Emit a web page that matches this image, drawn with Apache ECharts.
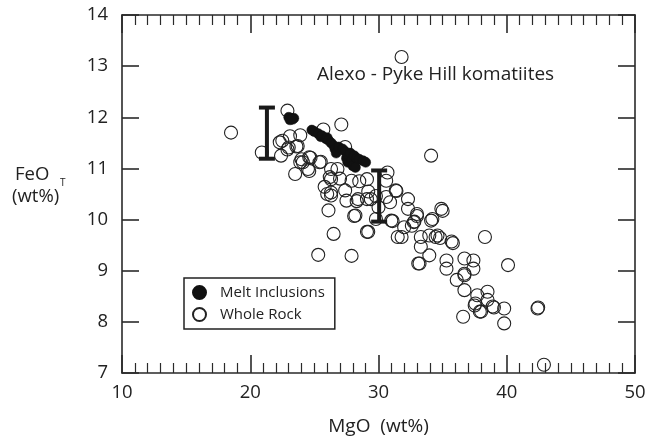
<!DOCTYPE html>
<html>
<head>
<meta charset="utf-8">
<script src="https://cdn.jsdelivr.net/npm/echarts@6/dist/echarts.min.js"></script>
<style>
html,body{margin:0;padding:0;background:#fff;}
#chart{width:657px;height:441px;}
</style>
</head>
<body>
<div id="chart"></div>
<script>
// MgO (wt%), FeO_T (wt%)
var meltInclusions = [
  [23.0,12.0],[23.2,11.98],[23.4,11.98],[23.1,11.95],[23.3,11.96],
  [24.8,11.75],[25.0,11.72],[25.3,11.68],[25.5,11.62],[25.6,11.64],[25.9,11.58],[26.0,11.6],
  [26.1,11.55],[26.3,11.5],[26.5,11.45],[26.6,11.38],[26.7,11.3],[26.9,11.42],[27.2,11.38],
  [27.4,11.33],[27.5,11.2],[27.6,11.12],[27.7,11.25],[27.8,11.3],[27.9,11.15],[28.0,11.05],
  [28.1,11.25],[28.3,11.2],[28.5,11.18],[28.8,11.15],[29.0,11.12],[28.2,11.02]
];
var wholeRock = [
  [31.8,13.18],[18.5,11.7],[20.9,11.31],[22.9,12.13],[22.5,11.54],[23.9,11.65],[23.0,11.41],
  [22.4,11.25],[23.7,11.44],[24.7,11.21],[23.9,11.12],[23.5,10.89],[24.6,10.95],[25.5,11.13],
  [25.7,11.76],[27.1,11.86],[27.4,11.42],[26.3,10.99],[26.8,10.99],[26.3,10.79],[27.0,10.8],
  [27.9,10.76],[28.5,10.75],[26.3,10.53],[27.4,10.57],[26.3,10.47],[26.1,10.18],[26.5,9.72],
  [25.3,9.31],[27.9,9.29],[28.2,10.08],[27.5,10.37],[28.4,10.40],[29.2,9.76],[29.2,10.55],
  [29.4,10.40],[30.0,10.24],[30.7,10.92],[30.6,10.76],[30.9,10.34],[29.8,10.01],[31.0,9.98],
  [31.35,10.57],[32.3,10.40],[32.3,10.21],[31.8,9.66],[32.0,9.85],[32.75,9.95],[33.0,10.11],
  [33.3,9.66],[33.1,9.14],[34.1,11.25],[34.9,10.21],[34.1,9.98],[33.96,9.69],[34.45,9.66],
  [34.8,9.64],[33.96,9.30],[35.3,9.20],[35.3,9.04],[35.8,9.54],[36.1,8.82],[36.7,9.24],
  [36.7,8.91],[36.7,8.62],[37.4,9.20],[37.4,9.04],[37.7,8.52],[37.55,8.36],[36.6,8.10],
  [38.0,8.20],[38.5,8.59],[38.5,8.43],[39.0,8.28],[38.3,9.66],[39.8,8.26],[39.8,7.97],
  [40.1,9.11],[42.4,8.26],[42.45,8.28],[42.9,7.16],
  [24.1,11.12],[25.4,11.12],[25.8,10.64],[26.0,10.5],[29.1,10.79],[29.1,10.4],[29.8,10.46],
  [30.6,10.44],[31.4,10.56],[32.8,9.96],[33.3,9.47],[29.1,9.76],[28.1,10.07],[24.6,11.22],
  [22.3,11.51],[23.1,11.63],[23.6,11.43],[22.9,11.37],[24.0,11.18],[24.5,10.99],[26.2,10.83],
  [28.3,10.36],[31.1,9.97],[31.5,9.66],[33.0,10.07],[32.6,9.88],[34.2,10.01],[35.0,10.17],
  [34.6,9.69],[35.7,9.57],[33.2,9.14],[36.7,8.94],[37.5,8.32],[37.9,8.20],[38.9,8.30]
];
// [MgO, FeO low, FeO high]
var errorBars = [[21.3,11.19,12.19],[30.05,9.96,10.96]];
var xTicks = [10,20,30,40,50];
var yTicks = [7,8,9,10,11,12,13,14];

var FONT = '"Open Sans", Lato, sans-serif';
var chart = echarts.init(document.getElementById('chart'));
var axisLineStyle = {color:'#2a2a2a', width:1.6};
var baseX = {
  type:'value', min:xTicks[0], max:xTicks[xTicks.length-1], interval:10,
  axisLine:{show:true, onZero:false, lineStyle:axisLineStyle},
  axisTick:{show:true, inside:true, length:18, lineStyle:axisLineStyle},
  minorTick:{show:true, splitNumber:10, length:10, lineStyle:{color:'#2a2a2a', width:1.2}},
  splitLine:{show:false}
};
var baseY = {
  type:'value', min:yTicks[0], max:yTicks[yTicks.length-1], interval:1,
  axisLine:{show:true, onZero:false, lineStyle:axisLineStyle},
  axisTick:{show:true, inside:true, length:17, lineStyle:axisLineStyle},
  splitLine:{show:false}
};
chart.setOption({
  animation:false,
  backgroundColor:'#fff',
  grid:{left:122, right:22, top:15, bottom:66},
  xAxis:[
    Object.assign({}, baseX, {position:'bottom',
      axisLabel:{show:true, margin:10, fontSize:18.5, color:'#222', fontFamily:FONT},
      name:'MgO  (wt%)', nameLocation:'middle', nameGap:44,
      nameTextStyle:{fontSize:19, color:'#222', fontFamily:FONT}}),
    Object.assign({}, baseX, {position:'top', axisLabel:{show:false}})
  ],
  yAxis:[
    Object.assign({}, baseY, {position:'left',
      axisLabel:{show:true, margin:14, fontSize:18.5, color:'#222', fontFamily:FONT}}),
    Object.assign({}, baseY, {position:'right', axisLabel:{show:false}})
  ],
  legend:{
    left:184, top:278, orient:'vertical',
    borderColor:'#222', borderWidth:1.5, padding:[7,10,7,8], itemGap:7,
    itemWidth:13, itemHeight:13,
    textStyle:{fontSize:15, color:'#222', fontFamily:FONT, padding:[0,0,0,9]},
    data:['Melt Inclusions','Whole Rock']
  },
  graphic:[
    {type:'text', left:317, top:65, style:{text:'Alexo - Pyke Hill komatiites', fontSize:19, fill:'#222', fontFamily:FONT}},
    {type:'text', left:15, top:165, style:{text:'FeO', fontSize:18.5, fill:'#222', fontFamily:FONT}},
    {type:'text', left:60, top:178, style:{text:'T', fontSize:10, fill:'#222', fontFamily:FONT}},
    {type:'text', left:12, top:187, style:{text:'(wt%)', fontSize:18.5, fill:'#222', fontFamily:FONT}}
  ],
  series:[
    {
      name:'Whole Rock', type:'scatter', data:wholeRock, symbol:'circle', symbolSize:13,
      itemStyle:{color:'rgba(255,255,255,0)', borderColor:'#222', borderWidth:1.1, opacity:1},
      emphasis:{disabled:true}, z:2
    },
    {
      name:'Melt Inclusions', type:'scatter', data:meltInclusions, symbol:'circle', symbolSize:10,
      itemStyle:{color:'#111', borderColor:'#111', borderWidth:0.5, opacity:1},
      emphasis:{disabled:true}, z:3
    },
    {
      name:'errors', type:'custom', data:errorBars, z:4,
      renderItem:function(params, api){
        var x = api.value(0);
        var lo = api.coord([x, api.value(1)]);
        var hi = api.coord([x, api.value(2)]);
        var hw = 8;
        var st = {stroke:'#1a1a1a', lineWidth:4};
        return {type:'group', children:[
          {type:'line', shape:{x1:lo[0], y1:lo[1], x2:hi[0], y2:hi[1]}, style:st},
          {type:'line', shape:{x1:lo[0]-hw, y1:lo[1], x2:lo[0]+hw, y2:lo[1]}, style:st},
          {type:'line', shape:{x1:hi[0]-hw, y1:hi[1], x2:hi[0]+hw, y2:hi[1]}, style:st}
        ]};
      }
    }
  ]
});
</script>
</body>
</html>
